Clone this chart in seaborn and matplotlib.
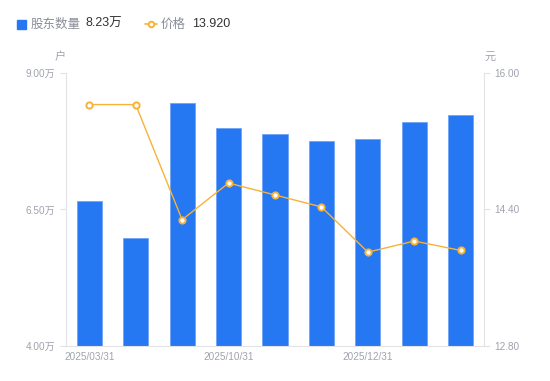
import numpy as np
import pandas as pd
import matplotlib
matplotlib.use("Agg")
import matplotlib.pyplot as plt
from matplotlib.patches import Rectangle
from matplotlib.lines import Line2D
import seaborn as sns

# ── Data ──────────────────────────────────────────────────────────────────────
dates = ["2025/03/31", "2025/06/30", "2025/09/30", "2025/10/31", "2025/11/10",
         "2025/11/30", "2025/12/31", "2026/01/20", "2026/01/31"]
holders = [6.66, 5.98, 8.45, 8.00, 7.88, 7.75, 7.79, 8.11, 8.23]   # 万户
price = [15.63, 15.63, 14.28, 14.71, 14.57, 14.43, 13.90, 14.03, 13.920]
shown_labels = ["2025/03/31", "2025/10/31", "2025/12/31"]

left_ticks = [4.00, 6.50, 9.00]
right_ticks = [12.80, 14.40, 16.00]

BLUE = "#2577F2"
ORANGE = "#F8B237"
GREY = "#A0A3AE"
AXIS = "#E3E3E6"

sns.set_style("white")
plt.rcParams["font.family"] = ["Liberation Sans", "Noto Sans CJK SC", "DejaVu Sans"]
CJK = ["Noto Sans CJK SC", "DejaVu Sans"]

df = pd.DataFrame({"date": dates, "holders": holders, "price": price})

fig = plt.figure(figsize=(5.5, 3.81), dpi=100)
ax = fig.add_axes([0.12, 0.0919, 0.76, 0.7165])

# ── Bars (shareholders) ───────────────────────────────────────────────────────
sns.barplot(data=df, x="date", y="holders", ax=ax, color=BLUE,
            width=0.54, saturation=1, edgecolor="#6FA5F7", linewidth=0.6)
ax.set_ylim(left_ticks[0], left_ticks[-1])
ax.set_yticks(left_ticks)
ax.set_yticklabels([f"{v:.2f}万" for v in left_ticks])
ax.set_xlim(-0.5, len(dates) - 0.5)
ax.set_xticks([dates.index(d) for d in shown_labels])
ax.set_xticklabels(shown_labels)
ax.set_xlabel("")
ax.set_ylabel("")

# ── Line (price) ──────────────────────────────────────────────────────────────
ax2 = ax.twinx()
sns.lineplot(x=np.arange(len(dates)), y=price, ax=ax2, color=ORANGE,
             linewidth=1.0, marker="o", markersize=4.5,
             markerfacecolor="white", markeredgecolor=ORANGE,
             markeredgewidth=1.4)
ax2.set_ylim(right_ticks[0], right_ticks[-1])
ax2.set_yticks(right_ticks)
ax2.set_yticklabels([f"{v:.2f}" for v in right_ticks])
ax2.set_xlim(-0.5, len(dates) - 0.5)

for a in (ax, ax2):
    for s in a.spines.values():
        s.set_visible(False)
    a.tick_params(axis="both", colors=AXIS, labelcolor=GREY, labelsize=7.2,
                  length=4, width=0.8)
ax.spines["left"].set_visible(True)
ax.spines["left"].set_color(AXIS)
ax.spines["bottom"].set_visible(True)
ax.spines["bottom"].set_color(AXIS)
ax2.spines["right"].set_visible(True)
ax2.spines["right"].set_color(AXIS)
ax.tick_params(axis="x", length=0, pad=4)

# unit labels
fig.text(60 / 550, 1 - 57 / 381, "户", color=GREY, fontsize=8, ha="center",
         va="center", family=CJK)
fig.text(490 / 550, 1 - 57 / 381, "元", color=GREY, fontsize=8, ha="center",
         va="center", family=CJK)

# ── Legend ────────────────────────────────────────────────────────────────────
y_leg = 1 - 24 / 381
fig.add_artist(Rectangle((17 / 550, 1 - 29 / 381), 9 / 550, 9 / 381,
                         transform=fig.transFigure, color=BLUE))
fig.text(31 / 550, y_leg, "股东数量", color="#8A8D99", fontsize=9, va="center",
         family=CJK)
fig.text(85 / 550, y_leg, f"{holders[-1]:.2f}万", color="#333333", fontsize=9,
         va="center")

fig.add_artist(Line2D([145 / 550, 157 / 550], [y_leg, y_leg],
                      transform=fig.transFigure, color=ORANGE, linewidth=1.2))
fig.add_artist(Line2D([151 / 550], [y_leg], transform=fig.transFigure,
                      marker="o", markersize=4, markerfacecolor="white",
                      markeredgecolor=ORANGE, markeredgewidth=1.4))
fig.text(161 / 550, y_leg, "价格", color="#8A8D99", fontsize=9, va="center",
         family=CJK)
fig.text(192 / 550, y_leg, f"{price[-1]:.3f}", color="#333333", fontsize=9,
         va="center")

fig.savefig("out.png", dpi=100)
